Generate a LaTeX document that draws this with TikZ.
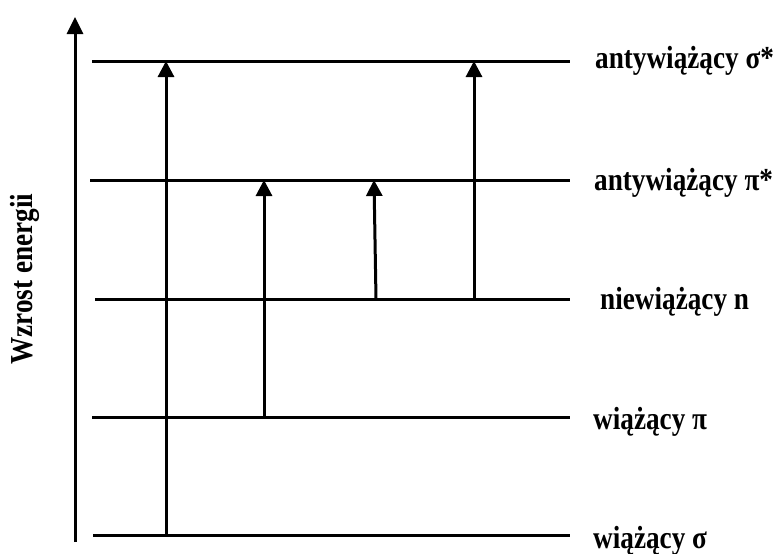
\documentclass[tikz,border=0pt]{standalone}
\usepackage{fontspec}
\setmainfont{Liberation Serif}
\usetikzlibrary{arrows.meta}
\newcommand{\sqtxt}[1]{\scalebox{0.85}[1.0]{#1}}
\begin{document}
\begin{tikzpicture}[x=1pt,y=-1pt,
  level/.style={line width=3pt},
  trans/.style={line width=3pt,-{Triangle[width=16pt,length=16pt]}},
  axisarrow/.style={line width=3pt,-{Triangle[width=16pt,length=17pt]}},
  lab/.style={anchor=base west,inner sep=0pt,font=\fontsize{32}{34}\selectfont\bfseries}]
\useasboundingbox (0,0) rectangle (780,554);
% energy axis
\coordinate (ax0) at (75,542);
\coordinate (ax1) at (75,17);
\draw[axisarrow] (ax0) -- (ax1);
\node[rotate=90,font=\fontsize{32}{34}\selectfont\bfseries,inner sep=0pt] (axlab) at (25,279) {\sqtxt{Wzrost energii}};
% levels
\coordinate (s1L) at (92,61);  \coordinate (s1R) at (570,61);
\coordinate (p1L) at (90,180); \coordinate (p1R) at (570,180);
\coordinate (nL) at (95,299);  \coordinate (nR) at (570,299);
\coordinate (pL) at (92,417);  \coordinate (pR) at (570,417);
\coordinate (sL) at (93,535);  \coordinate (sR) at (570,535);
\draw[level] (s1L) -- (s1R);
\draw[level] (p1L) -- (p1R);
\draw[level] (nL) -- (nR);
\draw[level] (pL) -- (pR);
\draw[level] (sL) -- (sR);
% labels
\node[lab] (ls1) at (595,68) {\sqtxt{antywiążący σ*}};
\node[lab] (lp1) at (594,190) {\sqtxt{antywiążący π*}};
\node[lab] (ln) at (600,309) {\sqtxt{niewiążący n}};
\node[lab] (lp) at (593,429) {\sqtxt{wiążący π}};
\node[lab] (ls) at (593,548) {\sqtxt{wiążący σ}};
% transitions
\coordinate (a1b) at (166,535); \coordinate (a1t) at (166,61);
\coordinate (a2b) at (264,417); \coordinate (a2t) at (264,180);
\coordinate (a3b) at (376,299); \coordinate (a3t) at (374,180);
\coordinate (a4b) at (474,299); \coordinate (a4t) at (474,61);
\draw[trans] (a1b) -- (a1t);
\draw[trans] (a2b) -- (a2t);
\draw[trans] (a3b) -- (a3t);
\draw[trans] (a4b) -- (a4t);
\end{tikzpicture}
\end{document}
